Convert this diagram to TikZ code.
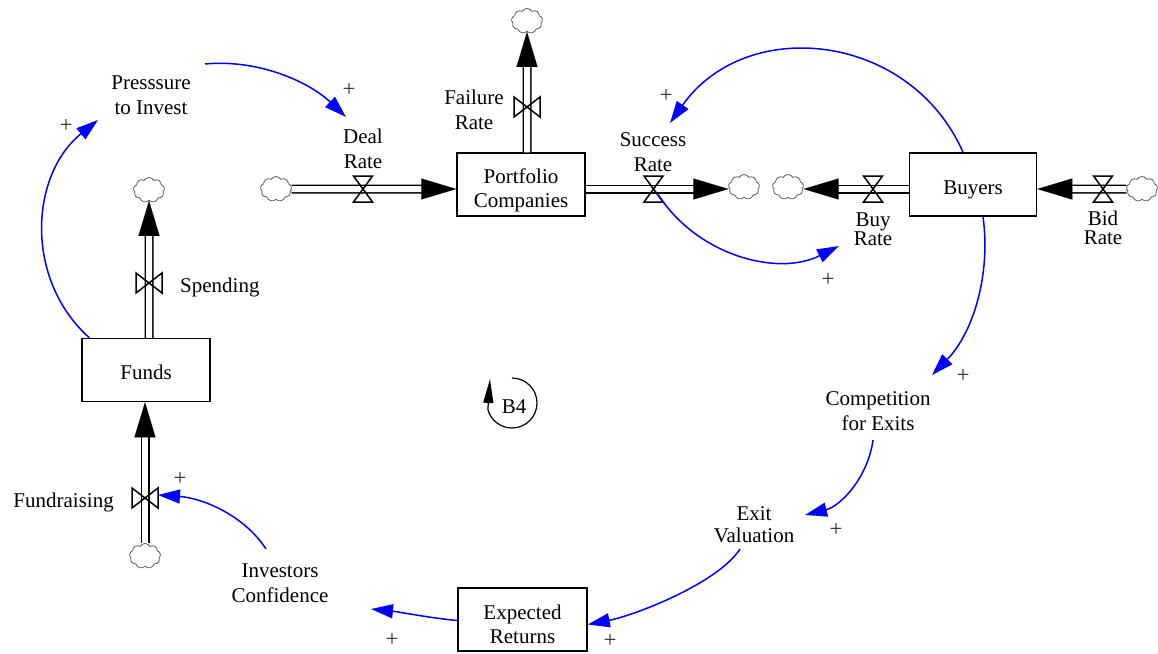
\documentclass[tikz,border=0pt]{standalone}
\usepackage{fontspec}
\setmainfont{Liberation Serif}
\usetikzlibrary{arrows.meta,shapes.symbols,calc}
\definecolor{linkblue}{RGB}{0,0,255}

\begin{document}
\begin{tikzpicture}[x=1pt,y=-1pt,
  lbl/.style={align=center,inner sep=0pt,font=\fontsize{21}{24.5}\selectfont},
  stock/.style={draw,line width=1.5pt,minimum width=128pt,minimum height=63pt,inner sep=0pt,align=center,font=\fontsize{21}{24.5}\selectfont},
  sky/.style={cloud,cloud puffs=9,cloud puff arc=120,aspect=1.25,draw=black!65,line width=0.8pt,minimum width=31pt,minimum height=25pt,inner sep=0pt},
  pipe/.style={draw,line width=1.5pt,double=white,double distance=6pt},
  flowtip/.style={draw=white,line width=0.1pt,-{Triangle[length=35pt,width=21pt,color=black]}},
  valvebox/.style={draw,line width=1.5pt,line join=miter},
  link/.style={draw=linkblue,line width=1.5pt,-{Triangle[length=22pt,width=14pt]}},
  polarity/.style={inner sep=0pt,text=black!80,font=\fontsize{23}{23}\selectfont},
  valveh/.pic={\draw[valvebox] (-9.5,-13)--(9.5,-13)--(0,0)--cycle (-9.5,13)--(9.5,13)--(0,0)--cycle;},
  valvev/.pic={\draw[valvebox] (-13,-10)--(-13,10)--(0,0)--cycle (13,-10)--(13,10)--(0,0)--cycle;}
]
\useasboundingbox (0,0) rectangle (1158,653);

% stocks (the struts set each text's height inside its box)
\node[stock] (port)   at (521,184.5) {\rule{0pt}{26pt}Portfolio\\Companies};
\node[stock,minimum width=127pt] (buyers) at (973,184.5) {\rule{0pt}{25pt}Buyers};
\node[stock] (funds)  at (146,370) {\rule{0pt}{19pt}Funds};
\node[stock,minimum width=129pt] (expret) at (522.5,619.5) {\rule{0pt}{24pt}Expected\\Returns};

% sources and sinks
\node[sky] (cDeal)  at (276,189) {};
\node[sky] (cSucc)  at (744,187) {};
\node[sky] (cBuy)   at (788,187) {};
\node[sky] (cBid)   at (1142,189) {};
\node[sky] (cFail)  at (527,21) {};
\node[sky] (cSpend) at (149,190) {};
\node[sky] (cFund)  at (145,556) {};

% valve positions
\coordinate (vDeal)  at (363,189);
\coordinate (vSucc)  at (653.5,189);
\coordinate (vBuy)   at (873,189);
\coordinate (vBid)   at (1103,189);
\coordinate (vFail)  at (527,107);
\coordinate (vSpend) at (149,283);
\coordinate (vFund)  at (145,498);

% flow pipes
\draw[pipe,shorten >=30pt] (cDeal.east) -- (cDeal -| port.west);
\draw[flowtip] (cDeal.east) -- (cDeal -| port.west);
\draw[pipe,shorten >=30pt] (vSucc -| port.east) -- (vSucc -| cSucc.west);
\draw[flowtip] (vSucc -| port.east) -- (vSucc -| cSucc.west);
\draw[pipe,shorten >=30pt] (vBuy -| buyers.west) -- (vBuy -| cBuy.east);
\draw[flowtip] (vBuy -| buyers.west) -- (vBuy -| cBuy.east);
\draw[pipe,shorten >=30pt] (cBid.west) -- (cBid -| buyers.east);
\draw[flowtip] (cBid.west) -- (cBid -| buyers.east);
\draw[pipe,shorten >=30pt] (cFail |- port.north) -- (cFail.south);
\draw[flowtip] (cFail |- port.north) -- (cFail.south);
\draw[pipe,shorten >=30pt] (cSpend |- funds.north) -- (cSpend.south);
\draw[flowtip] (cSpend |- funds.north) -- (cSpend.south);
\draw[pipe,shorten >=30pt] (cFund.north) -- (cFund |- funds.south);
\draw[flowtip] (cFund.north) -- (cFund |- funds.south);

% valves
\pic at (vDeal) {valveh};
\pic at (vSucc) {valveh};
\pic at (vBuy) {valveh};
\pic at (vBid) {valveh};
\pic at (vFail) {valvev};
\pic at (vSpend) {valvev};
\pic at (vFund) {valvev};

% labels
\node[lbl] (press) at (151,95) {Presssure\\to Invest};
\node[lbl] (deal) at (363,149) {Deal\\Rate};
\node[lbl] (fail) at (474,110) {Failure\\Rate};
\node[lbl] (succ) at (653,152) {Success\\Rate};
\node[lbl] (buyl) at (873,229) {Buy\\[-5.5pt]Rate};
\node[lbl] (bidl) at (1103,228) {Bid\\[-5.5pt]Rate};
\node[lbl,anchor=base west] (spend) at (180,292) {Spending};
\node[lbl,anchor=base east] (fundr) at (114,507) {Fundraising};
\node[lbl] (comp) at (878,411) {Competition\\for Exits};
\node[lbl] (exitl) at (754,525) {Exit\\[-2.5pt]Valuation};
\node[lbl] (inv) at (280,583) {Investors\\Confidence};

% causal links
\draw[link] ([shift={(8,0)}]funds.north west) .. controls (24,279) and (30,175) .. ([shift={(-53,25)}]press.center);
\draw[link] ([shift={(54,-31)}]press.center) .. controls (257,59) and (308,81) .. ([shift={(-17,-32)}]deal.center);
\draw[link] ([shift={(-10,0)}]buyers.north) .. controls (910,32) and (746,15) .. ([shift={(17,-29)}]succ.center);
\draw[link] ([shift={(5,6)}]vSucc) .. controls (697,255) and (777,277) .. ([shift={(-34,17)}]buyl.center);
\draw[link] ([shift={(10,0)}]buyers.south) .. controls (991,275) and (973,333) .. ([shift={(54,-36)}]comp.center);
\draw[link] ([shift={(-5,29)}]comp.center) .. controls (868,477) and (841,506) .. ([shift={(51,-10)}]exitl.center);
\draw[link] ([shift={(-14,24)}]exitl.center) .. controls (718,583) and (636,615) .. ([shift={(0,5)}]expret.east);
\draw[link] ([shift={(0,1)}]expret.west) .. controls (430,618) and (400,612) .. ([shift={(91,26)}]inv.center);
\draw[link] ([shift={(-14,-34)}]inv.center) .. controls (244,515) and (202,498) .. ([shift={(13,-3)}]vFund);

% polarities
\node[polarity] (p1) at (66,126) {+};
\node[polarity] (p2) at (349,90) {+};
\node[polarity] (p3) at (666,96) {+};
\node[polarity] (p4) at (828,280) {+};
\node[polarity] (p5) at (963,376) {+};
\node[polarity] (p6) at (836,530) {+};
\node[polarity] (p7) at (610,641) {+};
\node[polarity] (p8) at (392,640) {+};
\node[polarity] (p9) at (180,479) {+};

% balancing loop marker
\coordinate (b4loop) at (512,403);
\node[lbl] (b4) at (514,407) {B4};
\draw[line width=1.2pt,-{Triangle[length=24pt,width=10pt]}]
  ([shift={(0,-25)}]b4loop) arc[start angle=90,end angle=-165,radius=25pt]
  -- ([shift={(-22,-24)}]b4loop);
\end{tikzpicture}
\end{document}
